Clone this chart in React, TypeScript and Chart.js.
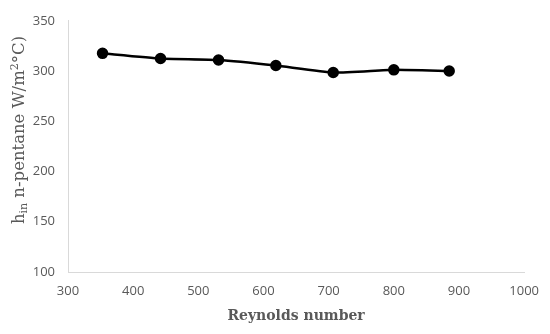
import React, { useEffect, useRef } from "react";
import { Chart, registerables } from "chart.js";

Chart.register(...registerables);

const reynolds = [353, 442, 531, 619, 707, 800, 885];
const hIn = [317.6, 312.5, 311, 305.5, 298.5, 301.2, 300];
const xTitle = "Reynolds number";
const yTitleParts = ["h", "in", " n-pentane W/m", "2", "°C)"];

const LEFT = 68;
const BOTTOM_H = 62;

const yTitlePlugin = {
  id: "yTitle",
  afterDraw(chart: any) {
    const { ctx } = chart;
    const big = "16.5px 'DejaVu Serif'";
    const small = "11px 'DejaVu Serif'";
    ctx.save();
    ctx.fillStyle = "#595959";
    ctx.textBaseline = "alphabetic";
    const segs = [
      { t: yTitleParts[0], f: big, dy: 0 },
      { t: yTitleParts[1], f: small, dy: 3 },
      { t: yTitleParts[2], f: big, dy: 0 },
      { t: yTitleParts[3], f: small, dy: -6 },
      { t: yTitleParts[4], f: big, dy: 0 },
    ];
    let total = 0;
    for (const s of segs) {
      ctx.font = s.f;
      total += ctx.measureText(s.t).width;
    }
    const cy = 130;
    ctx.translate(24, cy);
    ctx.rotate(-Math.PI / 2);
    let x = -total / 2;
    for (const s of segs) {
      ctx.font = s.f;
      ctx.fillText(s.t, x, s.dy);
      x += ctx.measureText(s.t).width;
    }
    ctx.restore();
  },
};

export default function App() {
  const ref = useRef<HTMLCanvasElement>(null);
  useEffect(() => {
    document.body.style.margin = "0";
    const chart = new Chart(ref.current!, {
      type: "line",
      data: {
        datasets: [
          {
            data: reynolds.map((x, i) => ({ x, y: hIn[i] })),
            borderColor: "#000",
            backgroundColor: "#000",
            borderWidth: 2.5,
            pointRadius: 4.5,
            pointBackgroundColor: "#000",
            pointBorderColor: "#000",
            tension: 0.15,
            fill: false,
          },
        ],
      },
      options: {
        animation: false,
        responsive: false,
        maintainAspectRatio: false,
        layout: { padding: { left: 0, right: 23, top: 17, bottom: 0 } },
        plugins: { legend: { display: false }, tooltip: { enabled: false } },
        scales: {
          x: {
            type: "linear",
            min: 300,
            max: 1000,
            ticks: {
              stepSize: 100,
              padding: 11,
              color: "#595959",
              font: { family: "'Open Sans'", size: 13 },
              maxRotation: 0,
              callback: (v: any) => String(v),
            },
            grid: { display: false, drawTicks: false },
            border: { display: true, color: "#d9d9d9", width: 1 },
            title: {
              display: true,
              text: xTitle,
              color: "#595959",
              font: { family: "'DejaVu Serif'", size: 14, weight: "bold" },
              padding: { top: 4, bottom: 9 },
            },
            afterFit(scale: any) {
              scale.height = BOTTOM_H;
            },
          },
          y: {
            min: 100,
            max: 350,
            ticks: {
              stepSize: 50,
              padding: 13,
              color: "#595959",
              font: { family: "'Open Sans'", size: 13 },
            },
            grid: { display: false, drawTicks: false },
            border: { display: true, color: "#d9d9d9", width: 1 },
            afterFit(scale: any) {
              scale.width = LEFT;
            },
          },
        },
      },
      plugins: [yTitlePlugin],
    } as any);
    return () => chart.destroy();
  }, []);
  return <canvas ref={ref} width={550} height={334} />;
}
